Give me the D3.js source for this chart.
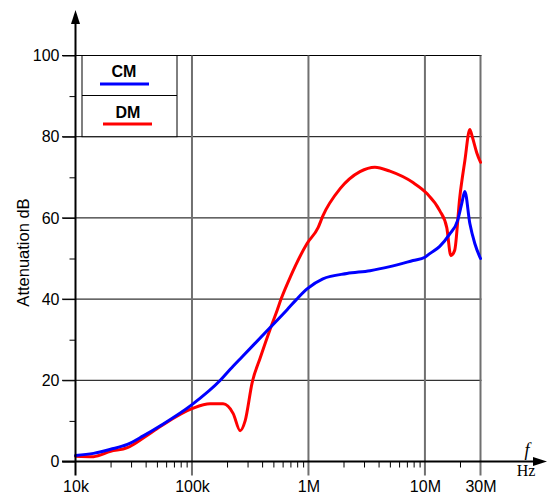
<!DOCTYPE html>
<html>
<head>
<meta charset="utf-8">
<script src="https://cdn.jsdelivr.net/npm/d3@7"></script>
<style>
  html, body { margin: 0; padding: 0; background: #fff; }
  svg { display: block; }
</style>
</head>
<body>
<svg id="chart" width="548" height="494"></svg>
<script>
// ---- data ----
const seriesNames = ["CM", "DM"];
const seriesColors = ["#0000ff", "#ff0000"];

const cmFreq = [10e3, 14.3e3, 20e3, 27.9e3, 38.2e3, 53.5e3, 100e3, 175e3, 213e3, 270e3, 469e3, 656e3, 794e3, 973e3, 1.33e6, 2.14e6, 3.38e6, 5e6, 7.9e6, 10e6, 11e6, 13.4e6, 16.3e6, 19.1e6, 20.7e6, 22e6, 24.3e6, 26.8e6, 30e6];
const cmDb   = [1.5, 2.0, 3.0, 4.2, 6.3, 8.8, 14.0, 20.0, 22.7, 25.8, 33.0, 37.4, 40.0, 42.5, 45.0, 46.3, 47.0, 48.0, 49.5, 50.3, 51.2, 53.0, 56.0, 59.4, 63.5, 66.5, 58.6, 53.7, 50.0];

const dmFreq = [10e3, 14.3e3, 20e3, 27.9e3, 38.2e3, 53.5e3, 100e3, 143e3, 185e3, 226e3, 259e3, 286e3, 329e3, 385e3, 469e3, 538e3, 582e3, 695e3, 973e3, 1.21e6, 1.33e6, 1.87e6, 2.77e6, 3.72e6, 5e6, 7.9e6, 10.4e6, 13.4e6, 15.4e6, 16.7e6, 18e6, 19.9e6, 22e6, 24.3e6, 25.5e6, 27.9e6, 30e6];
const dmDb   = [1.3, 1.2, 2.5, 3.4, 5.8, 8.6, 13.0, 14.2, 14.2, 11.8, 7.6, 10.0, 19.5, 25.5, 32.6, 37.2, 40.0, 45.3, 53.7, 57.6, 60.5, 67.2, 71.4, 72.5, 71.5, 68.7, 66.0, 61.8, 57.6, 50.7, 52.0, 65.0, 74.0, 81.8, 80.0, 76.0, 73.7];

const xMajorTicks = [1e4, 1e5, 1e6, 1e7, 3e7];
const xTickLabels = ["10k", "100k", "1M", "10M", "30M"];
const xMinorTicks = [2e4,3e4,4e4,5e4,6e4,7e4,8e4,9e4, 2e5,3e5,4e5,5e5,6e5,7e5,8e5,9e5, 2e6,3e6,4e6,5e6,6e6,7e6,8e6,9e6, 2e7];
const yMajorTicks = [0, 20, 40, 60, 80, 100];
const yMinorTicks = [10, 30, 50, 70, 90];
const yLabel = "Attenuation dB";

// ---- scales ----
const SANS = '"Liberation Sans", Arial, sans-serif';
const SERIF = '"Liberation Serif", "Times New Roman", serif';
const svg = d3.select("#chart").attr("font-family", SANS);
const x = d3.scaleLog().domain([1e4, 3e7]).range([75.5, 480.5]);
const y = d3.scaleLinear().domain([0, 100]).range([461.5, 55.5]);
const FONT = 16;

// horizontal gridlines
svg.append("g").selectAll("line").data(yMajorTicks).join("line")
  .attr("x1", 62).attr("x2", x(3e7) + 1)
  .attr("y1", d => y(d)).attr("y2", d => y(d))
  .attr("stroke", "#000").attr("stroke-width", 1);

// vertical gridlines (gray)
svg.append("g").selectAll("line").data(xMajorTicks.slice(1)).join("line")
  .attr("x1", d => x(d)).attr("x2", d => x(d))
  .attr("y1", y(100)).attr("y2", y(0) + 14)
  .attr("stroke", "#707070").attr("stroke-width", 2);

// x axis labels via d3 axis
const xAxis = svg.append("g").attr("transform", `translate(0,${y(0)})`)
  .call(d3.axisBottom(x).tickValues(xMajorTicks).tickFormat((d, i) => xTickLabels[i]).tickSize(0).tickPadding(19));
xAxis.select(".domain").remove();
xAxis.selectAll("text").attr("font-size", FONT).attr("font-family", SANS).attr("fill", "#000");

// x minor ticks
const xMinor = svg.append("g").attr("transform", `translate(0,${y(0)})`)
  .call(d3.axisBottom(x).tickValues(xMinorTicks).tickFormat("").tickSize(6));
xMinor.select(".domain").remove();
xMinor.selectAll("line").attr("stroke", "#000").attr("stroke-width", 1);

// y axis labels
const yAxis = svg.append("g").attr("transform", `translate(${x(1e4)},0)`)
  .call(d3.axisLeft(y).tickValues(yMajorTicks).tickSize(13).tickPadding(3));
yAxis.select(".domain").remove();
yAxis.selectAll("line").attr("stroke", "#000").attr("stroke-width", 1);
yAxis.selectAll("text").attr("font-size", FONT).attr("font-family", SANS).attr("fill", "#000");

const yMinor = svg.append("g").attr("transform", `translate(${x(1e4)},0)`)
  .call(d3.axisLeft(y).tickValues(yMinorTicks).tickFormat("").tickSize(6));
yMinor.select(".domain").remove();
yMinor.selectAll("line").attr("stroke", "#000").attr("stroke-width", 1);

// curves
const line = d3.line().curve(d3.curveMonotoneX).x(d => x(d[0])).y(d => y(d[1]));
const series = [
  { name: seriesNames[1], color: seriesColors[1], pts: d3.zip(dmFreq, dmDb) },
  { name: seriesNames[0], color: seriesColors[0], pts: d3.zip(cmFreq, cmDb) }
];
svg.append("g").selectAll("path").data(series).join("path")
  .attr("d", d => line(d.pts))
  .attr("fill", "none")
  .attr("stroke", d => d.color)
  .attr("stroke-width", 3)
  .attr("stroke-linejoin", "round")
  .attr("stroke-linecap", "round");

// axes lines with arrows
const x0 = x(1e4), y0 = y(0);
svg.append("line").attr("x1", x0).attr("x2", x0).attr("y1", y0 + 14).attr("y2", 22)
  .attr("stroke", "#000").attr("stroke-width", 2);
svg.append("path").attr("d", `M${x0},10 L${x0 - 4.5},24 L${x0 + 4.5},24 Z`).attr("fill", "#000");
svg.append("line").attr("x1", 62).attr("x2", 536).attr("y1", y0).attr("y2", y0)
  .attr("stroke", "#000").attr("stroke-width", 2);
svg.append("path").attr("d", `M547,${y0} L533,${y0 - 4.5} L533,${y0 + 4.5} Z`).attr("fill", "#000");

// f / Hz
svg.append("text").attr("x", 527).attr("y", 456).attr("text-anchor", "middle")
  .attr("font-family", SERIF).attr("font-style", "italic")
  .attr("font-size", 18).text("f");
svg.append("text").attr("x", 526).attr("y", 476).attr("text-anchor", "middle")
  .attr("font-family", SERIF)
  .attr("font-size", 16).text("Hz");

// y label
svg.append("text").attr("transform", `translate(29,252.5) rotate(-90)`)
  .attr("text-anchor", "middle").attr("font-size", 16.5).attr("font-family", SANS).text(yLabel);

// legend
const lg = svg.append("g");
lg.append("rect").attr("x", 82).attr("y", y(100)).attr("width", 95).attr("height", y(80) - y(100))
  .attr("fill", "#fff").attr("stroke", "#000").attr("stroke-width", 1);
lg.append("line").attr("x1", 82).attr("x2", 177).attr("y1", 95.5).attr("y2", 95.5)
  .attr("stroke", "#000").attr("stroke-width", 1);
const legItems = [
  { name: seriesNames[0], color: seriesColors[0], tx: 124, ty: 77, lx1: 100, lx2: 149, ly: 84 },
  { name: seriesNames[1], color: seriesColors[1], tx: 128, ty: 118, lx1: 103, lx2: 152, ly: 124 }
];
legItems.forEach(d => {
  lg.append("text").attr("x", d.tx).attr("y", d.ty).attr("text-anchor", "middle")
    .attr("font-size", FONT).attr("font-weight", "bold").attr("font-family", SANS).text(d.name);
  lg.append("line").attr("x1", d.lx1).attr("x2", d.lx2).attr("y1", d.ly).attr("y2", d.ly)
    .attr("stroke", d.color).attr("stroke-width", 3);
});
</script>
</body>
</html>
